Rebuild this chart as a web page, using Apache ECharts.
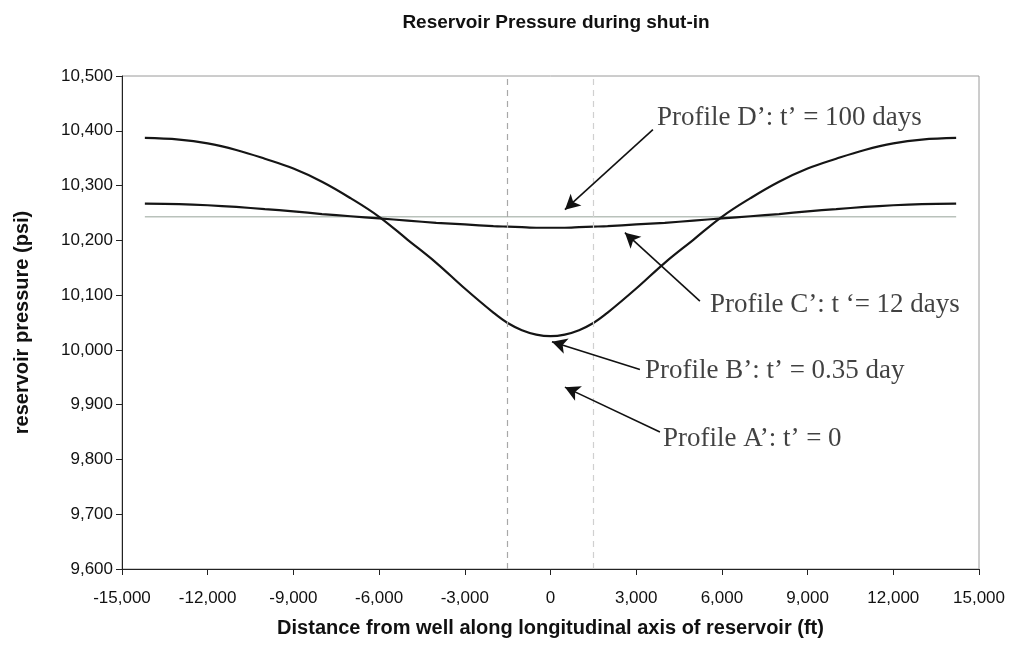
<!DOCTYPE html>
<html>
<head>
<meta charset="utf-8">
<script src="https://cdn.jsdelivr.net/npm/echarts@6/dist/echarts.min.js"></script>
<style>html,body{margin:0;padding:0;background:#fff}#c{width:1014px;height:648px}</style>
</head>
<body>
<div id="c"></div>
<script>
// distance from well (ft)
const distances = [-14200,-13000,-12000,-11000,-10000,-9000,-8000,-7000,-6000,-5000,-4000,-3000,-2000,-1500,-1000,-500,0,500,1000,1500,2000,3000,4000,5000,6000,7000,8000,9000,10000,11000,12000,13000,14200];
// Profile B': t' = 0.35 day
const profileB = [10387,10384,10377,10365,10349,10331,10307,10277,10243,10201,10159,10112,10068,10049,10036,10028,10025,10028,10036,10049,10068,10112,10159,10201,10243,10277,10307,10331,10349,10365,10377,10384,10387];
// Profile C': t' = 12 days
const profileC = [10267,10266,10264,10261,10257,10253,10248,10244,10240,10236,10232,10229,10226,10225,10224,10223,10223,10223,10224,10225,10226,10229,10232,10236,10240,10244,10248,10253,10257,10261,10264,10266,10267];
// Profile D': t' = 100 days (uniform)
const profileDx = [-14200, 14200];
const profileD = [10243, 10243];
// well region boundaries (dashed)
const wellBounds = [-1500, 1500];
// annotation texts and anchor points (data coords)
const annTexts = ["Profile D\u2019: t\u2019 = 100 days","Profile C\u2019: t \u2018= 12 days","Profile B\u2019: t\u2019 = 0.35 day","Profile A\u2019: t\u2019 = 0"];
const annTextPos = [[3725,10423],[5580,10083],[3305,9961],[3935,9837]];
const arrowFrom = [[3585,10402],[5230,10089],[3130,9964],[3830,9850]];
const arrowTo = [[505,10256],[2605,10214],[50,10015],[505,9932]];
const xTicks = {min:-15000,max:15000,interval:3000};
const yTicks = {min:9600,max:10500,interval:100};

const zip = (xs, ys) => xs.map((x,i)=>[x, ys[i]]);
const fmt = v => Number(v).toLocaleString('en-US');

const chart = echarts.init(document.getElementById('c'));
chart.setOption({
  animation:false,
  backgroundColor:'#fff',
  title:{
    text:'Reservoir Pressure during shut-in',
    left:551, top:8, textAlign:'center',
    textStyle:{fontFamily:'Liberation Sans',fontWeight:'bold',fontSize:19,color:'#111'}
  },
  grid:{left:122,right:35,top:76,bottom:79,show:true,borderColor:'#9a9a9a',borderWidth:1},
  xAxis:{
    type:'value', min:xTicks.min, max:xTicks.max, interval:xTicks.interval,
    name:'Distance from well along longitudinal axis of reservoir (ft)',
    nameLocation:'middle', nameGap:49,
    nameTextStyle:{fontFamily:'Liberation Sans',fontWeight:'bold',fontSize:20,color:'#111'},
    axisLine:{show:true,onZero:false,lineStyle:{color:'#222',width:1}},
    axisTick:{show:true,inside:false,length:6,lineStyle:{color:'#222'}},
    splitLine:{show:false},
    axisLabel:{formatter:fmt,margin:21,fontFamily:'Liberation Sans',fontSize:17,color:'#111'}
  },
  yAxis:{
    type:'value', min:yTicks.min, max:yTicks.max, interval:yTicks.interval,
    name:'reservoir pressure (psi)',
    nameLocation:'middle', nameGap:90, nameRotate:90,
    nameTextStyle:{fontFamily:'Liberation Sans',fontWeight:'bold',fontSize:20,color:'#111'},
    axisLine:{show:true,onZero:false,lineStyle:{color:'#222',width:1}},
    axisTick:{show:true,inside:false,length:6,lineStyle:{color:'#222'}},
    splitLine:{show:false},
    axisLabel:{formatter:fmt,margin:9,fontFamily:'Liberation Sans',fontSize:17,color:'#111'}
  },
  series:[
    {
      name:'D', type:'line', data:zip(profileDx, profileD), symbol:'none',
      lineStyle:{color:'#b9c2bb',width:1.5}, z:3,
      markLine:{
        silent:true, symbol:['none','none'], label:{show:false},
        data:[
          {xAxis:wellBounds[0], lineStyle:{color:'#a8a8a8',type:[6,5],width:1.2}},
          {xAxis:wellBounds[1], lineStyle:{color:'#d0d0d0',type:[6,5],width:1.2}}
        ]
      }
    },
    {name:'C', type:'line', data:zip(distances, profileC), symbol:'none', smooth:0.3,
      lineStyle:{color:'#151515',width:2.2}, z:4},
    {name:'B', type:'line', data:zip(distances, profileB), symbol:'none', smooth:0.4,
      lineStyle:{color:'#151515',width:2.2}, z:4},
    {
      name:'ann', type:'scatter', symbolSize:0, z:6,
      data:annTexts.map((t,i)=>({value:annTextPos[i], label:{formatter:t}})),
      label:{show:true,position:'right',distance:0,fontFamily:'Liberation Serif',fontSize:27,color:'#111'},
      markLine:{
        silent:true, symbol:['none','arrow'], symbolSize:[12,15], label:{show:false},
        lineStyle:{color:'#111',width:1.6,type:'solid'},
        data:arrowFrom.map((f,i)=>[{coord:f},{coord:arrowTo[i]}])
      }
    }
  ]
});
</script>
</body>
</html>
